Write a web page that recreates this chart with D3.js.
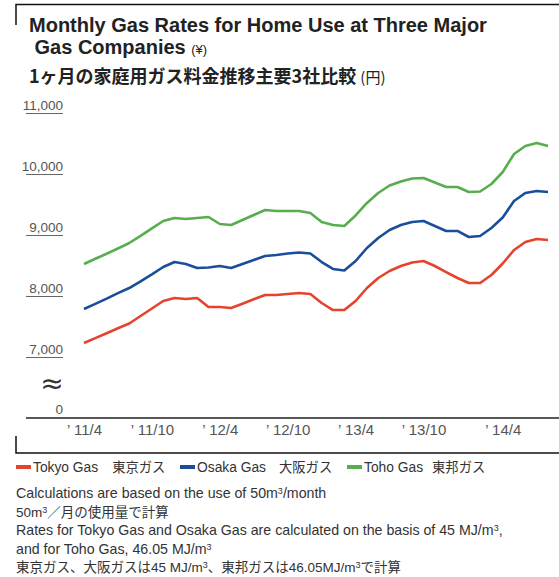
<!DOCTYPE html>
<html lang="ja">
<head>
<meta charset="UTF-8">
<title>Monthly Gas Rates for Home Use at Three Major Gas Companies</title>
<script src="https://cdnjs.cloudflare.com/ajax/libs/d3/7.8.5/d3.min.js"></script>
<style>
	*{margin:0;padding:0}
	body{background:#fff}
	svg text{font-family:"Liberation Sans",Arial,"Noto Sans CJK JP",sans-serif}
	.jp{font-family:"Noto Sans CJK JP",sans-serif}
	.tick text{fill:#555;font-size:13.5px}
	.xax .tick text{font-size:15px}
</style>
</head>
<body>
<div id="container"></div>
<script>
// monthly, 2011/4 .. 2014/9
var months=["2011/4","2011/5","2011/6","2011/7","2011/8","2011/9","2011/10","2011/11","2011/12",
	"2012/1","2012/2","2012/3","2012/4","2012/5","2012/6","2012/7","2012/8","2012/9","2012/10","2012/11","2012/12",
	"2013/1","2013/2","2013/3","2013/4","2013/5","2013/6","2013/7","2013/8","2013/9","2013/10","2013/11","2013/12",
	"2014/1","2014/2","2014/3","2014/4","2014/5","2014/6","2014/7","2014/8","2014/9"]

// the last label sits one month later in the original
var tickMonths=["2011/4","2011/10","2012/4","2012/10","2013/4","2013/10","2014/5"]
var tickLabels=["’ 11/4","’ 11/10","’ 12/4","’ 12/10","’ 13/4","’ 13/10","’ 14/4"]
var yTicks=[7000,8000,9000,10000,11000]

var tokyo=[7230,7310,7389,7472,7549,7672,7795,7918,7967,7951,7967,7820,7820,7803,7874,7946,8016,8016,8033,8049,8033,
	7885,7770,7770,7918,8131,8295,8410,8492,8549,8574,8492,8393,8295,8213,8213,8344,8533,8754,8885,8934,8918]
var osaka=[7787,7872,7956,8046,8131,8241,8354,8475,8557,8525,8459,8467,8492,8459,8525,8590,8656,8672,8697,8713,8697,
	8557,8443,8418,8574,8787,8951,9082,9164,9213,9229,9148,9066,9066,8967,8984,9115,9287,9557,9689,9721,9705]
var toho=[8525,8610,8693,8779,8869,8985,9108,9229,9279,9262,9279,9295,9180,9164,9246,9328,9410,9393,9393,9393,9361,
	9213,9164,9148,9320,9525,9689,9811,9877,9926,9934,9861,9787,9787,9705,9713,9836,10033,10328,10459,10508,10459]

var seriesEn=["Tokyo Gas","Osaka Gas","Toho Gas"]
var seriesJa=["東京ガス","大阪ガス","東邦ガス"]
var seriesColors=["#e4432d","#1a4e9b","#58ad4f"]

var notes=[
	[["Calculations are based on the use of 50m"],["3",1],["/month"]],
	[["50m"],["3",1],["／月の使用量で計算"]],
	[["Rates for Tokyo Gas and Osaka Gas are calculated on the basis of 45 MJ/m"],["3",1],[","]],
	[["and for Toho Gas, 46.05 MJ/m"],["3",1]],
	[["東京ガス、大阪ガスは45 MJ/m"],["3",1],["、東邦ガスは46.05MJ/m"],["3",1],["で計算"]]
]

var width=559,height=577

var svg=d3.select('#container').append('svg')
	.attr('width',width).attr('height',height)

// bracket frame
svg.append('path')
	.attr('d','M16,25V4.5H559')
	.attr('fill','none').attr('stroke','#111').attr('stroke-width',1.5)
svg.append('path')
	.attr('d','M16,436V453H559')
	.attr('fill','none').attr('stroke','#111').attr('stroke-width',1.5)

// titles
svg.append('text').attr('x',29).attr('y',32).attr('fill','#222')
	.style('font-size','20px').style('font-weight','bold')
	.text('Monthly Gas Rates for Home Use at Three Major')
var t2=svg.append('text').attr('x',29).attr('y',54).attr('fill','#222')
	.style('font-size','20px').style('font-weight','bold')
t2.append('tspan').text('\u00a0Gas Companies ')
t2.append('tspan').style('font-weight','normal').style('font-size','13px').text('(¥)')

var t3=svg.append('text').attr('class','jp').attr('x',29).attr('y',83).attr('fill','#222')
	.style('font-size','18px').style('font-weight','bold')
t3.append('tspan').text('1ヶ月の家庭用ガス料金推移主要3社比較 ')
t3.append('tspan').style('font-weight','normal').style('font-size','15px').text('(円)')

// scales
var x=d3.scalePoint().domain(months).range([84,548])
var y=d3.scaleLinear().domain([7000,11000]).range([357,113])

// y axis
var yAxis=svg.append('g').attr('class','yax')
	.attr('transform','translate(63,0)')
	.call(d3.axisLeft(y).tickValues(yTicks).tickSize(0).tickPadding(0).tickFormat(d3.format(',')))
yAxis.select('.domain').remove()
yAxis.selectAll('.tick text').attr('y',-4).attr('dy',0)
yAxis.selectAll('.tick').append('line')
	.attr('x1',-37).attr('x2',0).attr('stroke','#666').attr('stroke-width',1)

// zero label and break mark
svg.append('text').attr('x',63).attr('y',413.5).attr('text-anchor','end')
	.attr('fill','#555').style('font-size','13.5px').text('0')
svg.append('text').attr('x',52).attr('y',383).attr('text-anchor','middle')
	.attr('dominant-baseline','central').attr('fill','#333')
	.style('font-family','DejaVu Sans').style('font-size','28px').text('≈')

// x axis
var xAxis=svg.append('g').attr('class','xax')
	.attr('transform','translate(0,418)')
	.call(d3.axisBottom(x).tickValues(tickMonths).tickSize(0)
		.tickFormat(function(d,i){return tickLabels[i]}))
xAxis.select('.domain').remove()
xAxis.selectAll('.tick text').attr('y',17).attr('dy',0)
svg.append('line').attr('x1',26).attr('x2',559).attr('y1',418).attr('y2',418)
	.attr('stroke','#222').attr('stroke-width',1.5)

// lines
var line=d3.line()
	.x(function(d,i){return x(months[i])})
	.y(function(d){return y(d)})

;[tokyo,osaka,toho].forEach(function(s,k){
	svg.append('path').attr('d',line(s))
		.attr('fill','none').attr('stroke',seriesColors[k])
		.attr('stroke-width',2.6).attr('stroke-linejoin','round')
})

// legend
var legX=[16,180,347],legGap=[14,13,9]
seriesEn.forEach(function(n,k){
	var g=svg.append('g').attr('transform','translate('+legX[k]+',467)')
	g.append('rect').attr('x',0).attr('y',-2).attr('width',15).attr('height',4)
		.attr('fill',seriesColors[k])
	var t=g.append('text').attr('x',17).attr('y',5)
		.attr('fill','#333').style('font-size','13.8px')
	t.append('tspan').text(n)
	t.append('tspan').attr('class','jp').attr('dx',legGap[k])
		.style('font-size','13.3px').text(seriesJa[k])
})

// footnotes
var cjk=/[\u3000-\u9fff\uff00-\uffef]/
notes.forEach(function(segs,i){
	var isJa=segs.some(function(s){return cjk.test(s[0])})
	var t=svg.append('text').attr('x',16).attr('y',498+i*18.6)
		.attr('fill','#333').style('font-size',isJa?'13.5px':'14.2px')
	segs.forEach(function(s,j){
		var sp=t.append('tspan').text(s[0])
		if(s[1]) sp.style('font-size','9px').attr('dy',-4)
		else if(j>0) sp.attr('dy',4)
	})
})
</script>
</body>
</html>
